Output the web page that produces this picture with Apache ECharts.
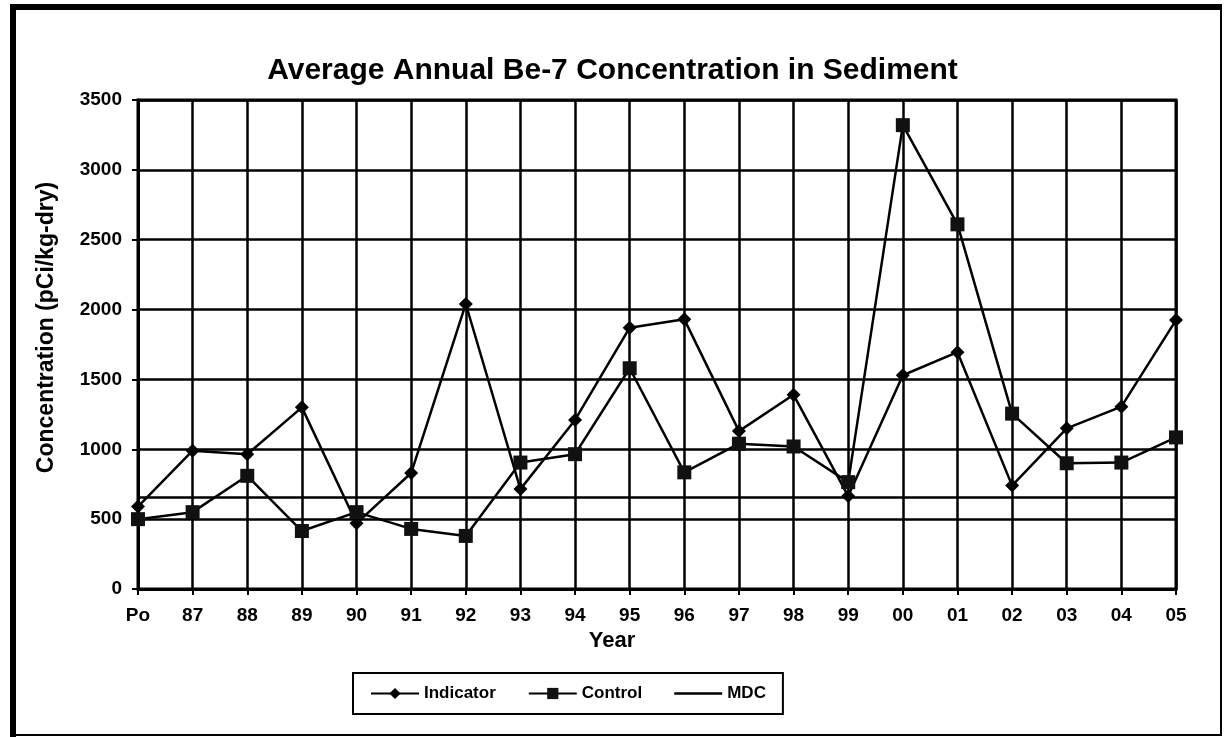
<!DOCTYPE html>
<html>
<head>
<meta charset="utf-8">
<script src="https://cdn.jsdelivr.net/npm/echarts@6/dist/echarts.min.js"></script>
<style>
html,body{margin:0;padding:0;background:#fff;}
#chart{width:1225px;height:737px;}
</style>
</head>
<body>
<div id="chart"></div>
<script>
const years = ['Po','87','88','89','90','91','92','93','94','95','96','97','98','99','00','01','02','03','04','05'];
const indicator = [590, 990, 965, 1300, 470, 830, 2040, 715, 1210, 1870, 1930, 1130, 1390, 665, 1530, 1695, 740, 1150, 1305, 1925];
const control = [500, 550, 810, 415, 550, 430, 380, 905, 965, 1580, 835, 1040, 1020, 765, 3320, 2610, 1255, 900, 905, 1085];
const mdcValue = 655;
const mdc = years.map(() => mdcValue);
const yTicks = [0, 500, 1000, 1500, 2000, 2500, 3000, 3500];

const FONT = '"Liberation Sans", Arial, Helvetica, sans-serif';
const chart = echarts.init(document.getElementById('chart'), null, {renderer: 'canvas'});
chart.setOption({
  backgroundColor: '#fff',
  animation: false,
  title: {
    text: 'Average Annual Be-7 Concentration in Sediment',
    left: 'center',
    top: 51,
    textStyle: {fontFamily: FONT, fontWeight: 'bold', fontSize: 30, color: '#000'}
  },
  graphic: [
    {type: 'line', shape: {x1: 13, y1: 7, x2: 1221, y2: 7}, style: {stroke: '#000', lineWidth: 6}},
    {type: 'line', shape: {x1: 13, y1: 4, x2: 13, y2: 737}, style: {stroke: '#000', lineWidth: 6}},
    {type: 'line', shape: {x1: 1221, y1: 4, x2: 1221, y2: 736}, style: {stroke: '#000', lineWidth: 2}},
    {type: 'line', shape: {x1: 10, y1: 735, x2: 1222, y2: 735}, style: {stroke: '#000', lineWidth: 2}}
  ],
  grid: {left: 138, right: 49, top: 100, bottom: 148, show: true, borderColor: '#000', borderWidth: 3, backgroundColor: 'transparent'},
  legend: {
    left: 353, top: 673,
    padding: [12, 17],
    itemGap: 32,
    itemWidth: 48,
    itemHeight: 14,
    borderColor: '#000', borderWidth: 2,
    textStyle: {fontFamily: FONT, fontWeight: 'bold', fontSize: 17, color: '#000'},
    data: [
      'Indicator',
      'Control',
      {name: 'MDC', icon: 'path://M0,0h0.01v0.01h-0.01z M0,5.8h48v2.4h-48z M0,14h0.01v0.01h-0.01z'}
    ]
  },
  xAxis: {
    type: 'category',
    data: years,
    boundaryGap: false,
    name: 'Year',
    nameLocation: 'middle',
    nameGap: 34,
    nameTextStyle: {fontFamily: FONT, fontWeight: 'bold', fontSize: 22, color: '#000', padding: [0, 90, 0, 0]},
    axisLine: {lineStyle: {color: '#000', width: 3}},
    axisTick: {show: true, length: 6, lineStyle: {color: '#000', width: 2}},
    axisLabel: {fontFamily: FONT, fontWeight: 'bold', fontSize: 19, color: '#000', margin: 17, interval: 0},
    splitLine: {show: true, lineStyle: {color: '#000', width: 2.5}}
  },
  yAxis: {
    type: 'value',
    min: 0, max: 3500, interval: 500,
    name: 'Concentration (pCi/kg-dry)',
    nameLocation: 'middle',
    nameGap: 80,
    nameTextStyle: {fontFamily: FONT, fontWeight: 'bold', fontSize: 23, color: '#000', padding: [0, 0, 0, 34]},
    axisLine: {show: true, lineStyle: {color: '#000', width: 3}},
    axisTick: {show: true, length: 6, lineStyle: {color: '#000', width: 2}},
    axisLabel: {fontFamily: FONT, fontWeight: 'bold', fontSize: 19, color: '#000', margin: 16,
      formatter: v => yTicks.includes(v) ? String(v) : ''},
    splitLine: {show: true, lineStyle: {color: '#000', width: 2.5}}
  },
  series: [
    {
      name: 'MDC', type: 'line', data: mdc, symbol: 'none',
      lineStyle: {color: '#000', width: 2.5}, itemStyle: {color: '#000'}, z: 2
    },
    {
      name: 'Indicator', type: 'line', data: indicator, symbol: 'diamond', symbolSize: 14,
      lineStyle: {color: '#000', width: 2.5}, itemStyle: {color: '#000'}, z: 3
    },
    {
      name: 'Control', type: 'line', data: control, symbol: 'rect', symbolSize: 14,
      lineStyle: {color: '#000', width: 2.5}, itemStyle: {color: '#111'}, z: 4
    }
  ]
});
</script>
</body>
</html>
